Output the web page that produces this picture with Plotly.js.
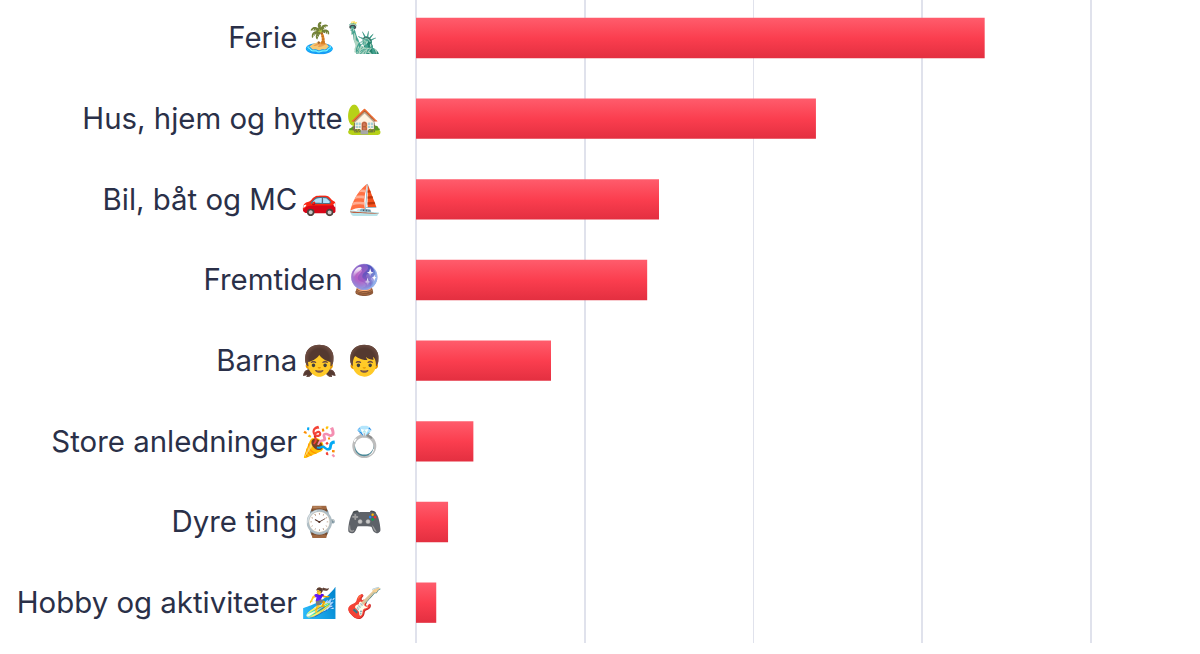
<!DOCTYPE html>
<html><head><meta charset="utf-8">
<script src="https://cdn.plot.ly/plotly-3.0.1.min.js"></script>
<style>html,body{margin:0;padding:0;background:#fff}</style></head>
<body><div id="c" style="width:1200px;height:654px"></div>
<script>
const names=["Ferie","Hus, hjem og hytte","Bil, båt og MC","Fremtiden","Barna","Store anledninger","Dyre ting","Hobby og aktiviteter"];
const emojis=["🏝️ 🗽","🏡","🚗 ⛵","🔮","👧 👦","🎉 💍","⌚ 🎮","🏄‍♀️ 🎸"];
const values=[33.7,23.7,14.4,13.7,8.0,3.4,1.9,1.2];
const tickVals=[0,10,20,30,40];
const categories=names.map((n,i)=>n+' '+emojis[i]);
const tickText=names.map((n,i)=>n+'<span style="font-size:12px"> </span>'+emojis[i]);
const fontFam='Inter, "Noto Sans", sans-serif';
Plotly.newPlot('c',[{type:'bar',orientation:'h',y:categories,x:values,width:0.5,marker:{color:'#f93c4d',line:{width:0}},hoverinfo:'none'}],{
 width:1200,height:654,paper_bgcolor:'#fff',plot_bgcolor:'#fff',showlegend:false,
 margin:{l:416,r:0,t:0,b:11},
 font:{family:fontFam,color:'#2a3048',size:29.4},
 xaxis:{range:[0,46.46],tickvals:tickVals,showticklabels:false,showgrid:true,gridcolor:'#e0e2ec',gridwidth:1.5,zeroline:true,zerolinecolor:'#e0e2ec',zerolinewidth:1.5,showline:false},
 yaxis:{autorange:false,range:[7.5,-0.4715],automargin:false,tickmode:'array',tickvals:categories,ticktext:tickText,ticks:'',ticklabelstandoff:32,tickfont:{size:29.4,color:'#2a3048',family:fontFam},showgrid:false,zeroline:false,showline:false}
},{displayModeBar:false,staticPlot:true}).then(gd=>{
 const NS='http://www.w3.org/2000/svg';
 const svg=gd.querySelector('.main-svg');
 const defs=svg.querySelector('defs')||svg.insertBefore(document.createElementNS(NS,'defs'),svg.firstChild);
 const g=document.createElementNS(NS,'linearGradient');
 g.setAttribute('id','barGrad');g.setAttribute('x1','0');g.setAttribute('y1','0');g.setAttribute('x2','0');g.setAttribute('y2','1');
 [['0','#ff5c6c'],['0.5','#fb3e4f'],['1','#e32f40']].forEach(([o,c])=>{const s=document.createElementNS(NS,'stop');s.setAttribute('offset',o);s.setAttribute('stop-color',c);g.appendChild(s);});
 defs.appendChild(g);
 gd.querySelectorAll('.bars .point path').forEach(p=>{p.style.fill='url(#barGrad)';});
});
</script></body></html>
